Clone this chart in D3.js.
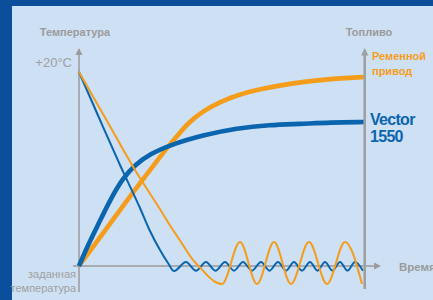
<!DOCTYPE html>
<html><head><meta charset="utf-8">
<script src="https://cdn.jsdelivr.net/npm/d3@7"></script>
<style>body{margin:0;background:#cde0f4}svg{display:block}</style>
</head><body>
<script>
// ---- Data (time in arbitrary units, temperature relative to set point, fuel in %) ----
const timeTempOrange = [0, 28, 56, 79, 94, 101, 114, 121, 128, 135, 143, 161, 178, 195, 212, 230, 248, 266, 283];
const tempOrange     = [20, 14.95, 9.9, 6.19, 3.71, 2.63, 0.62, -0.15, -0.93, -1.55, -1.86, 2.47, -1.86, 2.47, -1.86, 2.47, -1.86, 2.47, -1.86];

const timeTempBlue = [0, 21, 41, 61, 71, 81, 89, 95, 107, 117, 127, 136.5, 146, 155, 164, 173, 182, 190.5, 199, 207, 215, 223, 231, 238.5, 246, 253.5, 261, 268.5, 276, 284];
const tempBlue     = [20, 15.05, 10.41, 5.98, 3.61, 1.65, 0.31, -0.52, 0.42, -0.48, 0.42, -0.48, 0.42, -0.48, 0.42, -0.48, 0.42, -0.48, 0.42, -0.48, 0.42, -0.48, 0.42, -0.48, 0.42, -0.48, 0.42, -0.48, 0.42, -0.48];

const timeFuelOrange = [0, 21, 41, 61, 78, 91, 100, 108, 124, 141, 158, 181, 214, 248, 285];
const fuelOrange     = [0, 14.7, 28.9, 42.8, 54.1, 62.9, 68.0, 73.2, 79.9, 84.5, 88.1, 91.2, 94.3, 96.4, 97.4];

const timeFuelBlue = [0, 9, 18, 31, 44, 56, 71, 91, 124, 158, 191, 221, 251, 285];
const fuelBlue     = [0, 10.8, 20.1, 34.0, 45.4, 52.1, 57.7, 62.4, 67.5, 71.1, 72.7, 73.2, 74.0, 74.2];

const tempTopLabel = "+20°C";
const tempTopValue = 20;
const tempBottomLabel = ["заданная", "температура"];
const axisTitles = {temp: "Температура", fuel: "Топливо", time: "Время"};
const seriesNames = {orange: ["Ременной", "привод"], blue: ["Vector", "1550"]};

// ---- Drawing ----
const W = 433, H = 300;
const ORANGE = "#f59d1a", BLUE = "#0a65ae", GRAY = "#9b9b9b";
const svg = d3.select("body").append("svg").attr("width", W).attr("height", H);
svg.append("rect").attr("width", W).attr("height", H).attr("fill", "#0b4f9c");
svg.append("rect").attr("x", 12).attr("y", 6).attr("width", W - 12).attr("height", H - 6).attr("fill", "#cde0f4");

const x = d3.scaleLinear().domain([0, 285]).range([79, 364]);
const yT = d3.scaleLinear().domain([0, 20]).range([266, 72]);
const yF = d3.scaleLinear().domain([0, 100]).range([266, 72]);

const x0 = x(0), x1 = x(285), y0 = yT(0);

// left axis + x axis
svg.append("line").attr("x1", x0).attr("x2", x0).attr("y1", 292).attr("y2", 54)
  .attr("stroke", GRAY).attr("stroke-width", 1.5);
svg.append("path").attr("d", `M${x0},48 L${x0 - 3.5},55 L${x0 + 3.5},55 Z`).attr("fill", GRAY);
svg.append("line").attr("x1", 73).attr("x2", 375).attr("y1", y0).attr("y2", y0)
  .attr("stroke", GRAY).attr("stroke-width", 1.5);
svg.append("path").attr("d", `M381,${y0} L374,${y0 - 3.5} L374,${y0 + 3.5} Z`).attr("fill", GRAY);

// fuel curves (thick)
const fuelLine = d3.line().curve(d3.curveBasis);
svg.append("path").attr("d", fuelLine(timeFuelOrange.map((t, i) => [x(t), yF(fuelOrange[i])])))
  .attr("fill", "none").attr("stroke", ORANGE).attr("stroke-width", 4.6);
svg.append("path").attr("d", fuelLine(timeFuelBlue.map((t, i) => [x(t), yF(fuelBlue[i])])))
  .attr("fill", "none").attr("stroke", BLUE).attr("stroke-width", 4.6);

// temperature curves (thin)
const tempLine = d3.line().curve(d3.curveMonotoneX);
svg.append("path").attr("d", tempLine(timeTempBlue.map((t, i) => [x(t), yT(tempBlue[i])])))
  .attr("fill", "none").attr("stroke", BLUE).attr("stroke-width", 2);
svg.append("path").attr("d", tempLine(timeTempOrange.map((t, i) => [x(t), yT(tempOrange[i])])))
  .attr("fill", "none").attr("stroke", ORANGE).attr("stroke-width", 2);

// right axis
svg.append("line").attr("x1", x1 + 0.7).attr("x2", x1 + 0.7).attr("y1", 289).attr("y2", 54)
  .attr("stroke", "#a0a0a0").attr("stroke-width", 2.6);
svg.append("path").attr("d", `M${x1 + 0.7},48 L${x1 - 3},55.5 L${x1 + 4.4},55.5 Z`).attr("fill", "#a0a0a0");

// texts
const font = "'Liberation Sans', Arial, sans-serif";
function txt(s, xx, yy, opt) {
  return svg.append("text").attr("x", xx).attr("y", yy).text(s)
    .attr("font-family", font).attr("font-size", opt.size || 11)
    .attr("font-weight", opt.bold ? "bold" : "normal")
    .attr("fill", opt.fill || GRAY).attr("text-anchor", opt.anchor || "start")
    .attr("letter-spacing", opt.ls || 0);
}
txt(axisTitles.temp, 75, 36, {bold: true, anchor: "middle"});
txt(axisTitles.fuel, 369, 36, {bold: true, anchor: "middle"});
txt(axisTitles.time, 399, 270.5, {bold: true, size: 11.5});
txt(tempTopLabel, 72, yT(tempTopValue) - 5, {size: 13, anchor: "end", fill: "#a0a0a0"});
txt(tempBottomLabel[0], 76, 278, {size: 11, anchor: "end", fill: "#a0a0a0"});
txt(tempBottomLabel[1], 76, 291.5, {size: 11, anchor: "end", fill: "#a0a0a0"});
txt(seriesNames.orange[0], 372, 60, {bold: true, fill: ORANGE});
txt(seriesNames.orange[1], 372, 75, {bold: true, fill: ORANGE});
txt(seriesNames.blue[0], 370, 125, {bold: true, size: 16, fill: BLUE, ls: -0.7});
txt(seriesNames.blue[1], 370, 142, {bold: true, size: 16, fill: BLUE, ls: -0.7});
</script>
</body></html>
